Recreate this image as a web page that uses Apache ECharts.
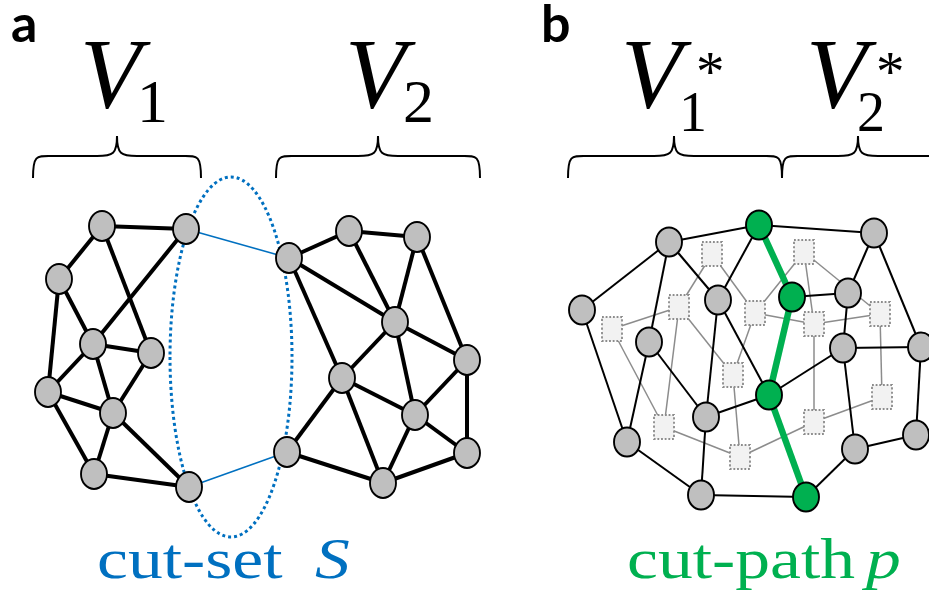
<!DOCTYPE html>
<html><head><meta charset="utf-8">
<script src="https://cdn.jsdelivr.net/npm/echarts@6/dist/echarts.min.js"></script>
<style>html,body{margin:0;padding:0;background:#fff}#c{width:929px;height:592px}</style>
</head><body><div id="c"></div>
<script>
// ---- Panel a: graph split by a cut-set ----
const aNodeX = [102,186,59,93,151,48,113,94,189, 289,349,417,395,342,467,415,287,383,467];
const aNodeY = [226,229,279,344,353,392,413,474,487, 258,231,237,322,378,360,415,452,483,453];
const aEdges = [[0,1],[0,2],[0,4],[1,3],[2,3],[2,5],[3,4],[3,5],[3,6],[4,6],[5,6],[5,7],[6,7],[6,8],[7,8],
  [9,10],[10,11],[9,12],[9,13],[10,12],[11,12],[11,14],[12,13],[12,14],[12,15],[13,15],[13,16],[13,17],
  [14,15],[14,18],[15,17],[15,18],[16,17],[17,18]];
const cutSetEdges = [[1,9],[8,16]];

// ---- Panel b: primal graph, dual graph and cut-path ----
const bNodeX = [669,582,718,649,627,706,701, 759,792,769,806, 874,848,843,921,855,916];
const bNodeY = [242,310,300,342,442,417,495, 225,297,395,497, 233,293,348,347,449,435];
const bGreenNodes = [7,8,9,10];
const bEdges = [[0,1],[0,7],[0,2],[0,3],[1,4],[3,4],[3,5],[2,7],[2,5],[2,9],[5,9],[5,6],[4,6],[6,10],
  [7,11],[8,12],[9,13],[11,12],[11,14],[12,13],[13,14],[13,15],[14,16],[15,16],[15,10]];
const cutPathEdges = [[7,8],[8,9],[9,10]];
const dualX = [712,679,612,733,664,740,755,804,814,880,882,814];
const dualY = [254,307,329,375,427,457,313,252,324,314,397,422];
const dualEdges = [[0,1],[0,6],[1,2],[1,3],[1,4],[2,4],[4,5],[3,5],[6,3],[6,7],[6,8],[7,8],[7,9],[8,9],[8,11],[9,10],[10,11],[11,5]];

// ---- Braces (left end, right end, tip) ----
const braceLeft  = [33, 276, 568, 782];
const braceRight = [201, 480, 782, 950];
const braceTip   = [117, 378, 674, 858];

// ---- Cut-set ellipse (centre x, centre y, rx, ry) ----
const cutEllipse = [[231, 357, 61, 180]];

const BLUE = '#0070c0', GREEN = '#00b050', GRAY = '#bfbfbf';
const ELLIPSE = 'path://M0,50 A50,50 0 1,1 100,50 A50,50 0 1,1 0,50 Z';
const BASE = 30; // draw text at a base size and scale it up

const chart = echarts.init(document.getElementById('c'));

const aData = aNodeX.map((x,i)=>({name:'a'+i, value:[x, aNodeY[i]]}));
const aLinks = aEdges.map(([s,t])=>({source:'a'+s, target:'a'+t}))
  .concat(cutSetEdges.map(([s,t])=>({source:'a'+s, target:'a'+t, lineStyle:{color:BLUE, width:1.6}})));

const bData = bNodeX.map((x,i)=>({name:'b'+i, value:[x, bNodeY[i]],
  itemStyle: bGreenNodes.includes(i) ? {color:GREEN} : undefined}));
const bLinks = bEdges.map(([s,t])=>({source:'b'+s, target:'b'+t}))
  .concat(cutPathEdges.map(([s,t])=>({source:'b'+s, target:'b'+t, lineStyle:{color:GREEN, width:6.5}})));

const dData = dualX.map((x,i)=>({name:'d'+i, value:[x, dualY[i]]}));
const dLinks = dualEdges.map(([s,t])=>({source:'d'+s, target:'d'+t}));

// text placed by its top edge (line height = font size)
function txt(x, yTop, text, size, color, fontSpec, sx){
  const k = size / BASE;
  return {type:'text', x:x, y:yTop, scaleX:k*(sx||1), scaleY:k,
    style:{text:text, font:fontSpec.replace('#', BASE + 'px'), lineHeight:BASE, fill:color}};
}
const SR = '# Liberation Serif', SI = 'italic # Liberation Serif', SB = 'bold # Lato';

chart.setOption({
  animation:false,
  grid:{left:0,right:0,top:0,bottom:0},
  xAxis:{type:'value', min:0, max:929, show:false},
  yAxis:{type:'value', min:0, max:592, inverse:true, show:false},
  series:[
    {type:'custom', coordinateSystem:'cartesian2d', silent:true, z:1, data:cutEllipse,
     renderItem:(p, api)=>{
       const c = api.coord([api.value(0), api.value(1)]);
       const rx = api.size([api.value(2), 0])[0], ry = api.size([0, api.value(3)])[1];
       return {type:'path', shape:{pathData:
         `M${c[0]-rx},${c[1]} A${rx},${ry} 0 1,0 ${c[0]+rx},${c[1]} A${rx},${ry} 0 1,0 ${c[0]-rx},${c[1]} Z`},
         style:{fill:'none', stroke:BLUE, lineWidth:3, lineDash:[3,3]}};
     }},
    {type:'custom', coordinateSystem:'cartesian2d', silent:true, z:1,
     data: braceLeft.map((x,i)=>[x, braceRight[i], braceTip[i]]),
     renderItem:(p, api)=>{
       const x0 = api.coord([api.value(0), 0])[0], x1 = api.coord([api.value(1), 0])[0], xt = api.coord([api.value(2), 0])[0];
       const yE = api.coord([0,178])[1], yM = api.coord([0,156])[1], yT = api.coord([0,136])[1];
       const r = 20;
       const d = `M${x0},${yE} C${x0},${yM-2} ${x0+4},${yM} ${x0+r},${yM} L${xt-r},${yM} C${xt-4},${yM} ${xt},${yM-2} ${xt},${yT} ` +
                 `M${xt},${yT} C${xt},${yM-2} ${xt+4},${yM} ${xt+r},${yM} L${x1-r},${yM} C${x1-4},${yM} ${x1},${yM-2} ${x1},${yE}`;
       return {type:'path', shape:{pathData:d}, style:{fill:'none', stroke:'#000', lineWidth:2}};
     }},
    {type:'graph', coordinateSystem:'cartesian2d', z:3, silent:true,
     symbol:ELLIPSE, symbolSize:[26,30], data:aData, links:aLinks,
     lineStyle:{color:'#000', width:4, opacity:1, curveness:0},
     itemStyle:{color:GRAY, borderColor:'#000', borderWidth:2},
     label:{show:false}, emphasis:{disabled:true}},
    {type:'graph', coordinateSystem:'cartesian2d', z:2, silent:true,
     symbol:'rect', symbolSize:[20,24], data:dData, links:dLinks,
     lineStyle:{color:'#8c8c8c', width:1.5, opacity:1, curveness:0},
     itemStyle:{color:'#f2f2f2', borderColor:'#8c8c8c', borderWidth:2, borderType:'dotted'},
     label:{show:false}, emphasis:{disabled:true}},
    {type:'graph', coordinateSystem:'cartesian2d', z:4, silent:true,
     symbol:ELLIPSE, symbolSize:[26,29], data:bData, links:bLinks,
     lineStyle:{color:'#000', width:2, opacity:1, curveness:0},
     itemStyle:{color:GRAY, borderColor:'#000', borderWidth:2},
     label:{show:false}, emphasis:{disabled:true}}
  ],
  graphic:[
    txt(11, -1, 'a', 52, '#000', SB),
    txt(541, -1, 'b', 52, '#000', SB),
    txt(80, 31, 'V', 100, '#000', SI),
    txt(137, 75, '1', 62, '#000', SR),
    txt(345, 31, 'V', 100, '#000', SI),
    txt(403, 75, '2', 62, '#000', SR),
    txt(621, 31, 'V', 100, '#000', SI),
    txt(679, 88, '1', 56, '#000', SR),
    txt(696, 48, '*', 57, '#000', SR),
    txt(806, 31, 'V', 100, '#000', SI),
    txt(857, 88, '2', 56, '#000', SR),
    txt(876, 48, '*', 57, '#000', SR),
    txt(97, 534, 'cut-set', 58, BLUE, SR, 1.2),
    txt(315, 534, 'S', 58, BLUE, SI, 1.2),
    txt(627, 534, 'cut-path', 58, GREEN, SR, 1.2),
    txt(866, 534, 'p', 58, GREEN, SI, 1.2)
  ]
});
</script></body></html>
